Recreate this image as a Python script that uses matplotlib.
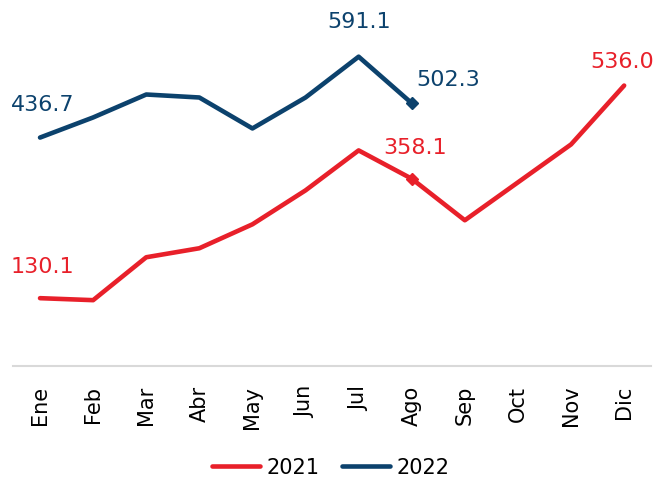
import matplotlib
matplotlib.use("Agg")
import matplotlib.pyplot as plt

months = ["Ene", "Feb", "Mar", "Abr", "May", "Jun", "Jul", "Ago", "Sep", "Oct", "Nov", "Dic"]
vals_2021 = [130.1, 126.3, 208.2, 225.4, 271.1, 335.9, 412.2, 358.1, 278.8, 351.2, 423.6, 536.0]
vals_2022 = [436.7, 475.1, 518.9, 513.2, 454.1, 513.2, 591.1, 502.3]

red = "#E8202A"
blue = "#0C426D"

plt.rcParams['font.family'] = ['DejaVu Sans']

fig = plt.figure(figsize=(6.61, 4.82), dpi=100)
ax = fig.add_axes([0.0204, 0.240, 0.964, 0.739])

x21 = list(range(len(vals_2021)))
x22 = list(range(len(vals_2022)))
ax.plot(x21, vals_2021, color=red, lw=3.3, solid_capstyle='round', label="2021")
ax.plot(x22, vals_2022, color=blue, lw=3.3, solid_capstyle='round', label="2022")

# diamond markers on Ago
ax.plot([7], [vals_2021[7]], marker='D', color=red, ms=6.5, ls='none')
ax.plot([7], [vals_2022[7]], marker='D', color=blue, ms=6.5, ls='none')

# data labels (index, offset in px)
labels21 = [(0, (2, 31)), (7, (3, 31)), (11, (-2, 24))]
labels22 = [(0, (3, 33)), (6, (0, 35)), (7, (36, 23))]
for i, off in labels21:
    ax.annotate("%.1f" % vals_2021[i], (i, vals_2021[i]), xytext=off, textcoords='offset pixels',
                ha='center', va='center', color=red, fontsize=16)
for i, off in labels22:
    ax.annotate("%.1f" % vals_2022[i], (i, vals_2022[i]), xytext=off, textcoords='offset pixels',
                ha='center', va='center', color=blue, fontsize=16)

ax.set_xlim(-0.5, 11.5)
ax.set_ylim(0, 680)
ax.set_xticks(x21)
ax.set_xticklabels(months, rotation=90, fontsize=15)
ax.tick_params(axis='x', length=0, pad=14)
ax.set_yticks([])
for s in ["top", "left", "right"]:
    ax.spines[s].set_visible(False)
ax.spines["bottom"].set_color("#D9D9D9")
ax.spines["bottom"].set_linewidth(1.5)

fig.legend(loc='center', bbox_to_anchor=(0.5, 0.03), ncol=2, frameon=False, fontsize=15,
           handlelength=2.3, handletextpad=0.3, columnspacing=1.1)

fig.savefig("out.png", dpi=100)
